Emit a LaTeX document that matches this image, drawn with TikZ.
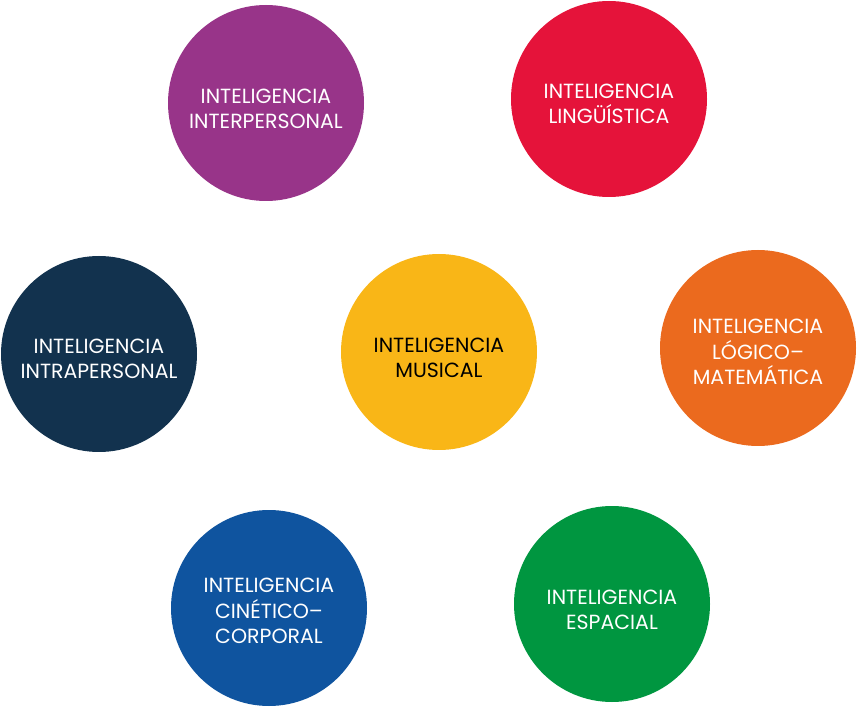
\documentclass[tikz,border=0pt]{standalone}
\usepackage{fontspec}
\setmainfont{Poppins}
\definecolor{cpurple}{HTML}{983489}
\definecolor{cred}{HTML}{E5133A}
\definecolor{cnavy}{HTML}{12324E}
\definecolor{cyellow}{HTML}{F9B617}
\definecolor{corange}{HTML}{EB6A1E}
\definecolor{cblue}{HTML}{0F549F}
\definecolor{cgreen}{HTML}{009640}
\tikzset{
  bubble/.style={circle, fill=#1, draw=none, minimum size=196pt, inner sep=0pt},
  label/.style={text=white, align=center, font=\fontsize{20.5pt}{25.5pt}\selectfont},
}
\begin{document}
\begin{tikzpicture}[x=1pt,y=-1pt]
\useasboundingbox (0,0) rectangle (857,708);
\node[bubble=cpurple] (inter) at (266,103) {};
\node[bubble=cred] (ling) at (609,99) {};
\node[bubble=cnavy] (intra) at (99,354) {};
\node[bubble=cyellow] (mus) at (439,352) {};
\node[bubble=corange] (log) at (758,348) {};
\node[bubble=cblue] (cin) at (269,608) {};
\node[bubble=cgreen] (esp) at (612,604) {};
\node[label] (tinter) at (266,109) {INTELIGENCIA\\INTERPERSONAL};
\node[label] (tling) at (609,104) {INTELIGENCIA\\LINGÜÍSTICA};
\node[label] (tintra) at (99,359) {INTELIGENCIA\\INTRAPERSONAL};
\node[label, text=black] (tmus) at (439,358) {INTELIGENCIA\\MUSICAL};
\node[label] (tlog) at (758,352) {INTELIGENCIA\\LÓGICO–\\MATEMÁTICA};
\node[label] (tcin) at (269,611) {INTELIGENCIA\\CINÉTICO–\\CORPORAL};
\node[label] (tesp) at (612,610) {INTELIGENCIA\\ESPACIAL};
\end{tikzpicture}
\end{document}
